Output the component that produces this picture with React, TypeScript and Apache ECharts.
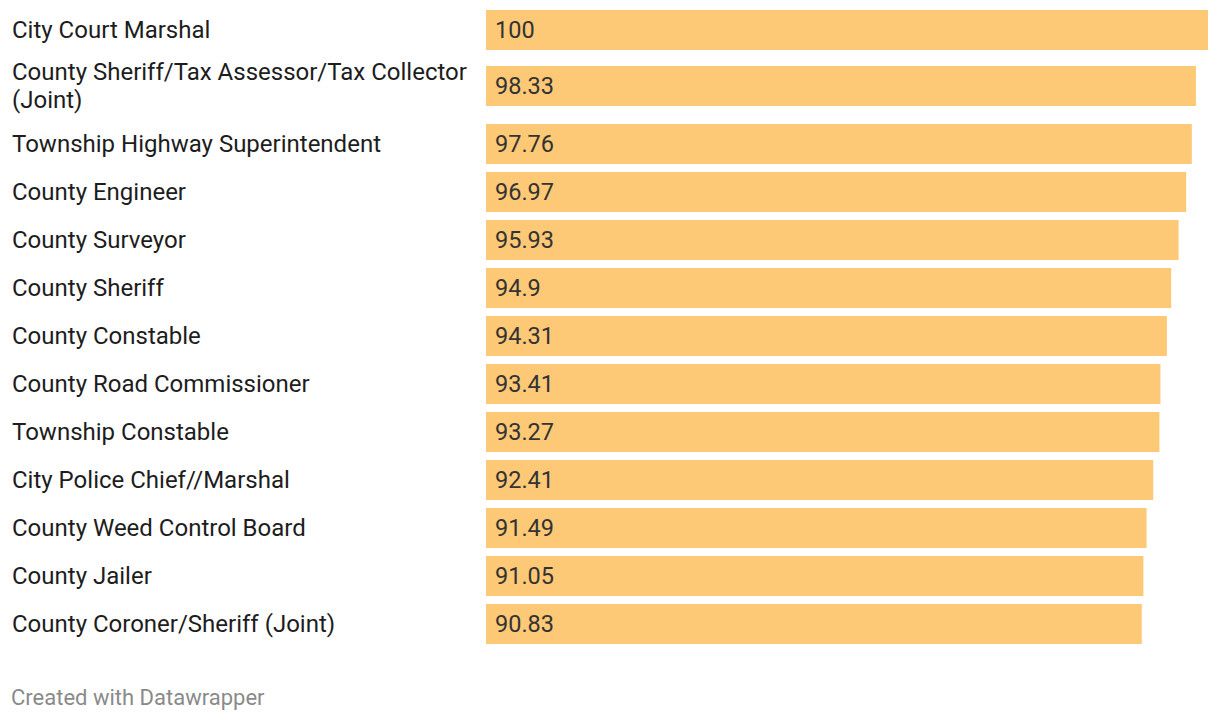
import React, { useEffect, useRef } from "react";
import * as echarts from "echarts";

const categories: string[] = [
  "City Court Marshal",
  "County Sheriff/Tax Assessor/Tax Collector\n(Joint)",
  "Township Highway Superintendent",
  "County Engineer",
  "County Surveyor",
  "County Sheriff",
  "County Constable",
  "County Road Commissioner",
  "Township Constable",
  "City Police Chief//Marshal",
  "County Weed Control Board",
  "County Jailer",
  "County Coroner/Sheriff (Joint)",
];

const values: number[] = [100, 98.33, 97.76, 96.97, 95.93, 94.9, 94.31, 93.41, 93.27, 92.41, 91.49, 91.05, 90.83];

const footerText = "Created with Datawrapper";

export default function App() {
  const ref = useRef<HTMLDivElement>(null);

  useEffect(() => {
    if (!ref.current) return;
    const chart = echarts.init(ref.current, undefined, { renderer: "svg" });

    // Row layout: each row is 48px, plus extra per extra label line
    const rowH = 48;
    const extraLine = 18;
    let acc = 0;
    const centers: number[] = categories.map((c) => {
      const lines = c.split("\n").length;
      const h = rowH + (lines - 1) * extraLine;
      const center = acc + h / 2;
      acc += h;
      return center;
    });
    const total = acc;

    const data = values.map((v, i) => [v, centers[i], i]);

    chart.setOption({
      animation: false,
      grid: { left: 486, right: 12, top: 6, height: total },
      xAxis: { type: "value", min: 0, max: 100, show: false },
      yAxis: { type: "value", min: 0, max: total, inverse: true, show: false },
      series: [
        {
          type: "custom",
          data,
          renderItem: (params: any, api: any) => {
            const v = api.value(0);
            const y = api.value(1);
            const idx = api.value(2);
            const p0 = api.coord([0, y]);
            const p1 = api.coord([v, y]);
            const isMulti = categories[idx].indexOf("\n") >= 0;
            const yc = isMulti ? p0[1] - 1 : p0[1];
            return {
              type: "group",
              children: [
                {
                  type: "rect",
                  shape: { x: p0[0], y: yc - 20, width: p1[0] - p0[0], height: 40 },
                  style: { fill: "#fdc976" },
                },
                {
                  type: "text",
                  style: {
                    text: String(values[idx]),
                    x: p0[0] + 9,
                    y: yc,
                    verticalAlign: "middle",
                    align: "left",
                    fontFamily: "Roboto",
                    fontSize: 23.5,
                    fill: "#333333",
                  },
                },
                {
                  type: "text",
                  style: {
                    text: categories[idx],
                    x: 12,
                    y: yc,
                    verticalAlign: "middle",
                    align: "left",
                    fontFamily: "Roboto",
                    fontSize: 24,
                    lineHeight: 28,
                    fill: "#1d1d1d",
                  },
                },
              ],
            };
          },
        },
      ],
      graphic: [
        {
          type: "text",
          x: 11,
          y: 697,
          style: {
            text: footerText,
            fontFamily: "Roboto",
            fontSize: 22,
            verticalAlign: "middle",
            fill: "#8a8a8a",
          },
        },
      ],
    });

    return () => chart.dispose();
  }, []);

  return (
    <div
      ref={ref}
      style={{ position: "fixed", left: 0, top: 0, width: 1220, height: 720, background: "#ffffff" }}
    />
  );
}
